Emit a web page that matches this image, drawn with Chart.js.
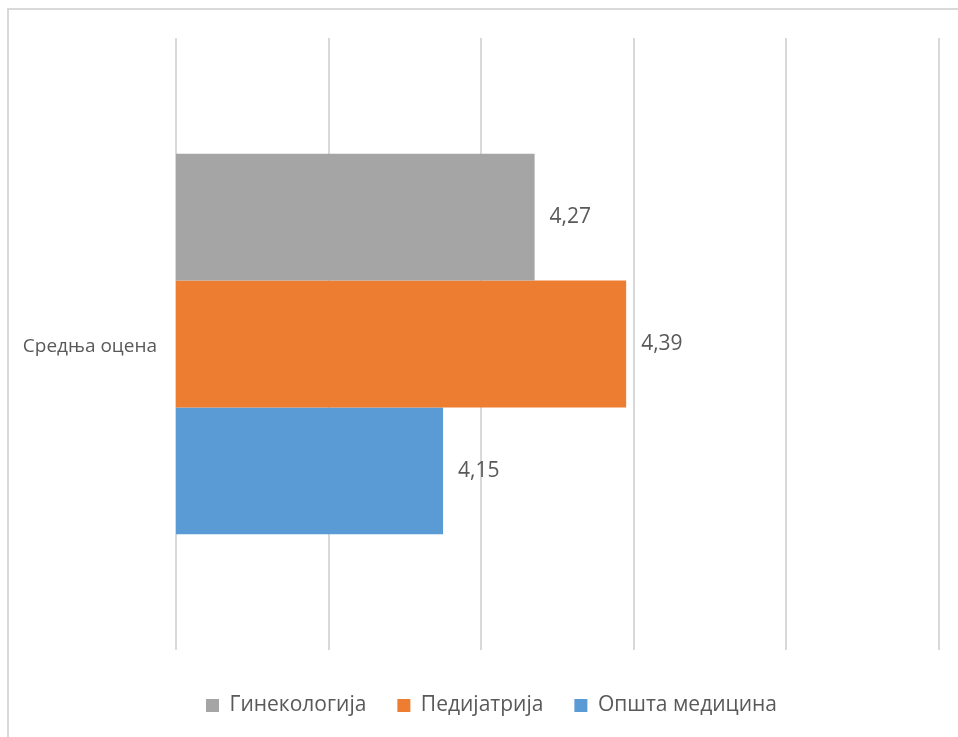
<!DOCTYPE html>
<html>
<head>
<meta charset="utf-8">
<script src="https://cdn.jsdelivr.net/npm/chart.js@4"></script>
<style>
  html, body { margin: 0; padding: 0; background: #fff; }
  body { width: 958px; height: 737px; position: relative; overflow: hidden; }
  .frame {
    position: absolute; left: 7px; top: 8px; width: 1000px; height: 800px;
    border-top: 2px solid #d9d9d9; border-left: 2px solid #d9d9d9;
  }
  #chart { position: absolute; left: 0; top: 0; }
</style>
</head>
<body>
<div class="frame"></div>
<canvas id="chart" width="958" height="737"></canvas>
<script>
const categories = ['Средња оцена'];
const seriesNames = ['Гинекологија', 'Педијатрија', 'Општа медицина'];
const ginekologija = [4.27];
const pedijatrija = [4.39];
const opstaMedicina = [4.15];
const seriesColors = ['#a5a5a5', '#ed7d31', '#5b9bd5'];
const axisMin = 3.8;
const axisMax = 4.8;
const axisStep = 0.2;

const textColor = '#595959';
const fontFamily = "'Open Sans', 'Noto Sans', sans-serif";

// value labels to the right of each bar, decimal comma
const barValueLabels = {
    id: 'barValueLabels',
    afterDatasetsDraw(chart) {
        const ctx = chart.ctx;
        ctx.save();
        ctx.font = '21px ' + fontFamily;
        ctx.fillStyle = textColor;
        ctx.textAlign = 'left';
        ctx.textBaseline = 'middle';
        chart.data.datasets.forEach((ds, i) => {
            chart.getDatasetMeta(i).data.forEach((bar, j) => {
                const txt = ds.data[j].toFixed(2).replace('.', ',');
                ctx.fillText(txt, bar.x + 15, bar.y);
            });
        });
        ctx.restore();
    }
};

// nudge the legend a bit to the right of the canvas centre
const legendShift = {
    id: 'legendShift',
    afterLayout(chart) {
        if (chart.legend) {
            chart.legend.left += 22;
            chart.legend.right += 22;
        }
    }
};

var ctx = document.getElementById('chart').getContext('2d');
var myChart = new Chart(ctx, {
    type: 'bar',
    data: {
        labels: categories,
        datasets: [{
            label: seriesNames[0],
            data: ginekologija,
            backgroundColor: seriesColors[0]
        }, {
            label: seriesNames[1],
            data: pedijatrija,
            backgroundColor: seriesColors[1]
        }, {
            label: seriesNames[2],
            data: opstaMedicina,
            backgroundColor: seriesColors[2]
        }]
    },
    options: {
        indexAxis: 'y',
        responsive: false,
        animation: false,
        datasets: {
            bar: {
                categoryPercentage: 0.622,
                barPercentage: 1
            }
        },
        layout: {
            padding: { top: 38, right: 19, left: 0, bottom: 11 }
        },
        scales: {
            x: {
                min: axisMin,
                max: axisMax,
                afterFit(scale) { scale.height += 14; },
                ticks: { display: false, stepSize: axisStep },
                grid: { color: '#d9d9d9', lineWidth: 2, drawTicks: false },
                border: { display: false }
            },
            y: {
                afterFit(scale) { scale.width = 176; },
                grid: { display: false },
                border: { display: false },
                ticks: {
                    padding: 11,
                    labelOffset: 3,
                    color: textColor,
                    font: { family: fontFamily, size: 19 }
                }
            }
        },
        plugins: {
            legend: {
                position: 'bottom',
                labels: {
                    color: textColor,
                    boxWidth: 13,
                    boxHeight: 13,
                    padding: 31,
                    font: { family: fontFamily, size: 21 }
                }
            },
            tooltip: { enabled: false }
        }
    },
    plugins: [barValueLabels, legendShift]
});
</script>
</body>
</html>
